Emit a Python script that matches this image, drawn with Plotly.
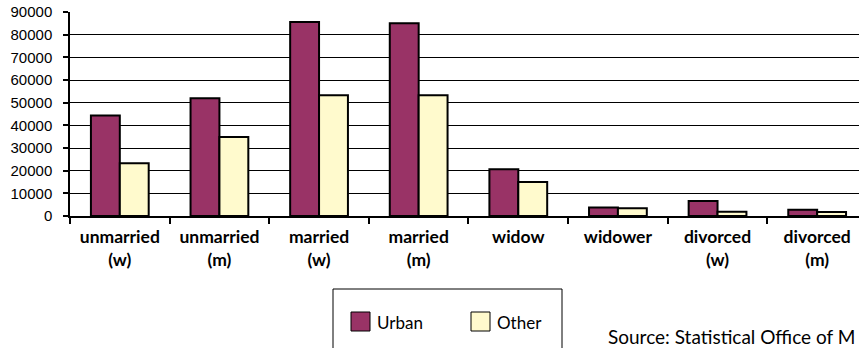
import plotly.graph_objects as go

# Population by marital status, urban vs. other settlements
categories = ["unmarried<br>(w)", "unmarried<br>(m)", "married<br>(w)", "married<br>(m)",
              "widow", "widower", "divorced<br>(w)", "divorced<br>(m)"]
urban = [44300, 52000, 85600, 85000, 20600, 3800, 6600, 2800]
other = [23300, 34900, 53300, 53300, 15000, 3400, 1900, 1800]
y_ticks = [0, 10000, 20000, 30000, 40000, 50000, 60000, 70000, 80000, 90000]

series = [("Urban", urban, "#993366"), ("Other", other, "#FFFACD")]
source_note = "Source: Statistical Office of M"

text_font = "Lato"

# plot-area geometry in pixels, used to place paper-anchored items
W, H = 859, 348
ML, MR, MT, MB = 70, 0, 12, 132
PW, PH = W - ML - MR, H - MT - MB


def px(x):
    return (x - ML) / PW


def py(y):
    return (H - MB - y) / PH


fig = go.Figure()
for name, vals, color in series:
    fig.add_trace(go.Bar(name=name, x=categories, y=vals, showlegend=False,
                         marker=dict(color=color, line=dict(color="black", width=2))))

# boxed legend below the chart
shapes = [dict(type="rect", xref="paper", yref="paper",
               x0=px(333), x1=px(562), y0=py(365), y1=py(289),
               line=dict(color="black", width=1), fillcolor="rgba(0,0,0,0)")]
annotations = []
for i, (name, _, color) in enumerate(series):
    sx = 351 + i * 120
    shapes.append(dict(type="rect", xref="paper", yref="paper",
                       x0=px(sx), x1=px(sx + 19), y0=py(331), y1=py(312),
                       line=dict(color="black", width=1), fillcolor=color))
    annotations.append(dict(text=name, xref="paper", yref="paper",
                            x=px(sx + 24), y=py(322.5), xanchor="left", yanchor="middle",
                            showarrow=False,
                            font=dict(family=text_font, size=17, color="black")))

annotations.append(dict(text=source_note, xref="paper", yref="paper",
                        x=px(607), y=py(336.5), xanchor="left", yanchor="middle",
                        showarrow=False, borderpad=0,
                        font=dict(family=text_font, size=19, color="black")))

fig.update_layout(
    width=W, height=H,
    margin=dict(l=ML, r=MR, t=MT, b=MB),
    paper_bgcolor="white", plot_bgcolor="white",
    barmode="group", bargap=0.42, bargroupgap=0,
    showlegend=False,
    shapes=shapes,
    annotations=annotations,
)

fig.update_xaxes(
    range=[-0.5, 7.42], tickson="boundaries", ticks="outside", ticklen=6, tickwidth=2,
    tickcolor="black", showline=True, linecolor="black", linewidth=2,
    tickfont=dict(family=text_font, size=17.5, color="black", weight="bold"),
    ticklabelstandoff=4, showgrid=False,
)
fig.update_yaxes(
    range=[0, 90000], tickvals=y_ticks, ticktext=[str(v) for v in y_ticks],
    ticks="outside", ticklen=5, tickwidth=1.5, tickcolor="black",
    showline=True, linecolor="black", linewidth=1.5,
    showgrid=True, gridcolor="black", gridwidth=1.3, zeroline=False,
    tickfont=dict(family="Liberation Sans", size=15, color="black"),
    ticklabelstandoff=8,
)

fig.write_html("out.html")
